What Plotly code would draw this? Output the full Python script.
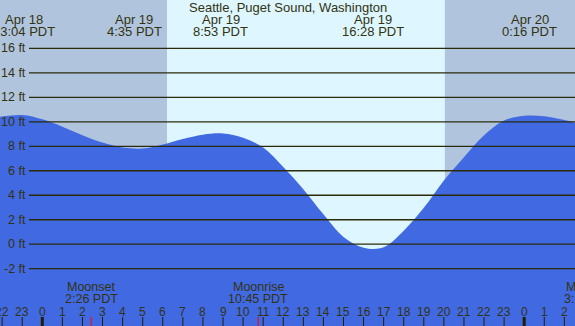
import plotly.graph_objects as go

# ---- data (hours relative to Apr 19 00:00 PDT) ----
tide_hours = [-2.2, -1, 0, 1, 2, 3, 4, 5, 6, 7, 8, 9, 10, 11, 12, 13, 14, 15, 16,
              17, 18, 19, 20, 21, 22, 23, 24, 25, 26, 26.6]
tide_ft = [10.4, 10.55, 10.2, 9.6, 8.9, 8.3, 7.9, 7.82, 8.15, 8.6, 8.95, 9.05, 8.7, 7.9,
           6.3, 4.5, 2.45, 0.6, -0.28, -0.25, 1.1, 2.97, 5.2, 7.1, 8.9, 10.1, 10.5, 10.45,
           10.15, 9.9]

event_hours = [-0.933, 4.583, 8.883, 16.467, 24.267]
event_dates = ["Apr 18", "Apr 19", "Apr 19", "Apr 19", "Apr 20"]
event_times = ["23:04 PDT", "4:35 PDT", "8:53 PDT", "16:28 PDT", "0:16 PDT"]

moon_hours = [2.433, 10.75, 27.3]
moon_names = ["Moonset", "Moonrise", "Moonset"]
moon_times = ["2:26 PDT", "10:45 PDT", "3:18 PDT"]

sunrise_h = 6.21
sunset_h = 20.05

grid_levels = [16, 14, 12, 10, 8, 6, 4, 2, 0, -2]
grid_labels = ["16 ft", "14 ft", "12 ft", "10 ft", "8 ft", "6 ft", "4 ft", "2 ft", "0 ft", "-2 ft"]

tick_hours = list(range(-2, 27))
tick_labels = [str(h % 24) for h in tick_hours]

title = "Seattle, Puget Sound, Washington"

# ---- style ----
W, H = 575, 326
X0, X1 = -2.107, 26.53
Y0, Y1 = -6.68, 19.95
NIGHT = "#B0C4DE"
DAY = "#DDF6FF"
WATER = "#4169E1"
INK = "#333311"
FONT = "Liberation Sans, Arial, sans-serif"


def px_y(py):
    return 1 - py / H


def paper_x(h):
    return (h - X0) / (X1 - X0)


def f(sz):
    return dict(size=sz, color=INK, family=FONT)


fig = go.Figure()
fig.add_trace(go.Scatter(x=[tide_hours[0], tide_hours[-1]], y=[Y0, Y0], mode="lines",
                         line=dict(width=0, color=WATER), hoverinfo="skip", showlegend=False))
fig.add_trace(go.Scatter(x=tide_hours, y=tide_ft, mode="lines", line=dict(width=0, color=WATER, shape="spline"),
                         fill="tonexty", fillcolor=WATER, showlegend=False))

shapes = []
# night shading
shapes.append(dict(type="rect", xref="x", yref="paper", x0=X0 - 1, x1=sunrise_h, y0=0, y1=1,
                   fillcolor=NIGHT, line=dict(width=0), layer="below"))
shapes.append(dict(type="rect", xref="x", yref="paper", x0=sunset_h, x1=X1 + 1, y0=0, y1=1,
                   fillcolor=NIGHT, line=dict(width=0), layer="below"))
# grid lines
for lv in grid_levels:
    shapes.append(dict(type="line", xref="paper", yref="y", x0=29 / W, x1=1, y0=lv, y1=lv,
                       line=dict(color="#2b2b0b", width=1.3), layer="above"))
# hour ticks
for h in tick_hours:
    mid = (h % 24 == 0)
    shapes.append(dict(type="line", xref="x", yref="paper", x0=h, x1=h, y0=0, y1=px_y(317),
                       line=dict(color="#221f00", width=3 if mid else 1), layer="above"))
# moon ticks
for h in moon_hours:
    shapes.append(dict(type="line", xref="x", yref="paper", x0=h, x1=h, y0=0, y1=px_y(317),
                       line=dict(color="#ff0000", width=1), layer="above"))

ann = []
ann.append(dict(text=title, xref="paper", yref="paper", x=0.5, y=px_y(7.5), showarrow=False,
                xanchor="center", yanchor="middle", font=f(13)))
for h, d, t in zip(event_hours, event_dates, event_times):
    ann.append(dict(text=d, xref="x", yref="paper", x=h, y=px_y(20), showarrow=False,
                    xanchor="center", yanchor="middle", font=f(13)))
    ann.append(dict(text=t, xref="x", yref="paper", x=h, y=px_y(32), showarrow=False,
                    xanchor="center", yanchor="middle", font=f(13)))
for h, n, t in zip(moon_hours, moon_names, moon_times):
    ann.append(dict(text=n, xref="paper", yref="paper", x=paper_x(h), y=px_y(287), showarrow=False,
                    xanchor="center", yanchor="middle", font=f(12.5)))
    ann.append(dict(text=t, xref="paper", yref="paper", x=paper_x(h), y=px_y(299), showarrow=False,
                    xanchor="center", yanchor="middle", font=f(12.5)))
for lv, lb in zip(grid_levels, grid_labels):
    ann.append(dict(text=lb, xref="paper", yref="y", x=27.5 / W, y=lv, showarrow=False,
                    xanchor="right", yanchor="middle", font=f(12.5)))
for h, lb in zip(tick_hours, tick_labels):
    ann.append(dict(text=lb, xref="x", yref="paper", x=h, y=px_y(311.5), showarrow=False,
                    xanchor="center", yanchor="middle", font=f(12)))

fig.update_layout(
    width=W, height=H, margin=dict(l=0, r=0, t=0, b=0),
    paper_bgcolor=DAY, plot_bgcolor=DAY,
    xaxis=dict(range=[X0, X1], visible=False, fixedrange=True),
    yaxis=dict(range=[Y0, Y1], visible=False, fixedrange=True),
    shapes=shapes, annotations=ann, showlegend=False,
)
fig.write_html("out.html", config={"displayModeBar": False},
               post_script="document.body.style.margin='0';document.body.style.padding='0';"
                           "document.body.style.overflow='hidden';")
